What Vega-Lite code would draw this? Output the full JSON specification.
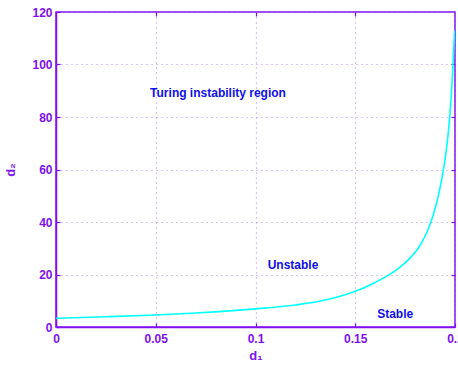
{
  "$schema": "https://vega.github.io/schema/vega-lite/v6.json",
  "width": 399,
  "height": 315,
  "autosize": {"type": "none"},
  "padding": {"left": 56, "top": 12, "right": 3, "bottom": 38},
  "background": "white",
  "config": {
    "view": {"stroke": "#8010F0", "strokeWidth": 1.5},
    "axis": {
      "domainColor": "#8010F0",
      "domainWidth": 1.5,
      "tickColor": "#8010F0",
      "tickSize": -4,
      "tickWidth": 1.2,
      "labelColor": "#8010F0",
      "labelFont": "Liberation Sans",
      "labelFontSize": 12,
      "labelFontWeight": "bold",
      "titleColor": "#8010F0",
      "titleFont": "Liberation Sans",
      "titleFontSize": 13,
      "titleFontWeight": "bold",
      "gridColor": "#A070F0",
      "gridDash": [1, 4],
      "gridWidth": 1.2,
      "gridOpacity": 0.8
    }
  },
  "datasets": {
    "curve": [
      {"d1": 0.0, "d2": 3.3},
      {"d1": 0.025, "d2": 3.9},
      {"d1": 0.05, "d2": 4.6},
      {"d1": 0.072, "d2": 5.4},
      {"d1": 0.1, "d2": 6.9},
      {"d1": 0.12, "d2": 8.4},
      {"d1": 0.1307, "d2": 9.6},
      {"d1": 0.1424, "d2": 11.7},
      {"d1": 0.15, "d2": 13.6},
      {"d1": 0.159, "d2": 16.6},
      {"d1": 0.165, "d2": 19.0},
      {"d1": 0.17, "d2": 21.4},
      {"d1": 0.175, "d2": 24.4},
      {"d1": 0.178, "d2": 26.7},
      {"d1": 0.181, "d2": 29.4},
      {"d1": 0.1835, "d2": 32.4},
      {"d1": 0.186, "d2": 36.3},
      {"d1": 0.188, "d2": 40.2},
      {"d1": 0.1905, "d2": 46.5},
      {"d1": 0.1925, "d2": 53.0},
      {"d1": 0.1938, "d2": 58.2},
      {"d1": 0.1955, "d2": 66.5},
      {"d1": 0.1965, "d2": 73.0},
      {"d1": 0.1974, "d2": 80.5},
      {"d1": 0.1982, "d2": 89.0},
      {"d1": 0.199, "d2": 100.0},
      {"d1": 0.1998, "d2": 113.0}
    ],
    "notes": [
      {"d1": 0.0812, "d2": 89.0, "label": "Turing instability region"},
      {"d1": 0.1188, "d2": 23.8, "label": "Unstable"},
      {"d1": 0.170, "d2": 4.9, "label": "Stable"}
    ]
  },
  "layer": [
    {
      "data": {"name": "curve"},
      "mark": {"type": "line", "color": "#00FFFF", "strokeWidth": 1.6, "interpolate": "monotone", "clip": true},
      "encoding": {
        "x": {
          "field": "d1", "type": "quantitative",
          "scale": {"domain": [0, 0.2], "nice": false},
          "axis": {"values": [0, 0.05, 0.1, 0.15, 0.2], "format": ".2~f", "title": "d₁", "labelPadding": 10, "titlePadding": 5, "labelFlush": false, "labelOverlap": false}
        },
        "y": {
          "field": "d2", "type": "quantitative",
          "scale": {"domain": [0, 120], "nice": false},
          "axis": {"values": [0, 20, 40, 60, 80, 100, 120], "title": "d₂", "labelPadding": 8, "titlePadding": 14, "labelFlush": false}
        }
      }
    },
    {
      "data": {"name": "notes"},
      "mark": {"type": "text", "color": "#1010E8", "font": "Liberation Sans", "fontSize": 12, "fontWeight": "bold", "align": "center", "baseline": "middle"},
      "encoding": {
        "x": {
          "field": "d1", "type": "quantitative",
          "axis": {"orient": "top", "values": [0.05, 0.1, 0.15], "labels": false, "title": null, "grid": false, "domain": false}
        },
        "y": {
          "field": "d2", "type": "quantitative",
          "axis": {"orient": "right", "values": [20, 40, 60, 80, 100], "labels": false, "title": null, "grid": false, "domain": false}
        },
        "text": {"field": "label"}
      }
    }
  ],
  "resolve": {"axis": {"x": "independent", "y": "independent"}}
}
